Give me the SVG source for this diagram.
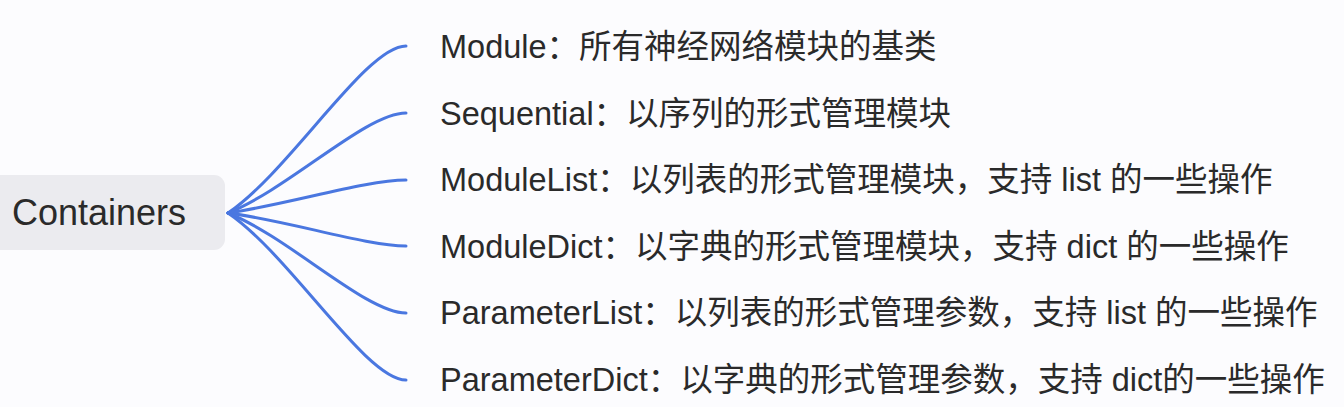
<svg xmlns="http://www.w3.org/2000/svg" width="1344" height="407" viewBox="0 0 1344 407">
<style>
.bg{fill:#fcfcfe}
.root{fill:#ebebef}
.t{font-family:"Liberation Sans","Noto Sans CJK SC",sans-serif;fill:#2a2a2a}
.lbl{font-size:32.5px}
.rt{font-size:36px}
.c{fill:none;stroke:#4a77e0;stroke-width:3;stroke-linecap:round}
</style>
<rect class="bg" x="0" y="0" width="1344" height="407"/>
<g id="connectors">
<path class="c" d="M228,213 C290,171 366,46 406,46"/>
<path class="c" d="M228,213 C290,188 366,113 406,113"/>
<path class="c" d="M228,213 C290,204 366,180 406,180"/>
<path class="c" d="M228,213 C290,221 366,246 406,246"/>
<path class="c" d="M228,213 C290,238 366,313 406,313"/>
<path class="c" d="M228,213 C290,255 366,380 406,380"/>
</g>
<g id="containers">
<rect class="root" x="-12" y="175" width="237" height="75" rx="11"/>
<text class="t rt" x="12" y="224.5">Containers</text>
</g>
<g id="module"><text class="t lbl" x="440" y="58">Module：所有神经网络模块的基类</text></g>
<g id="sequential"><text class="t lbl" x="440" y="124.5">Sequential：以序列的形式管理模块</text></g>
<g id="modulelist"><text class="t lbl" x="440" y="191">ModuleList：以列表的形式管理模块，支持 list 的一些操作</text></g>
<g id="moduledict"><text class="t lbl" x="440" y="257.5">ModuleDict：以字典的形式管理模块，支持 dict 的一些操作</text></g>
<g id="parameterlist"><text class="t lbl" x="440" y="324">ParameterList：以列表的形式管理参数，支持 list 的一些操作</text></g>
<g id="parameterdict"><text class="t lbl" x="440" y="390.5">ParameterDict：以字典的形式管理参数，支持 dict的一些操作</text></g>
</svg>
